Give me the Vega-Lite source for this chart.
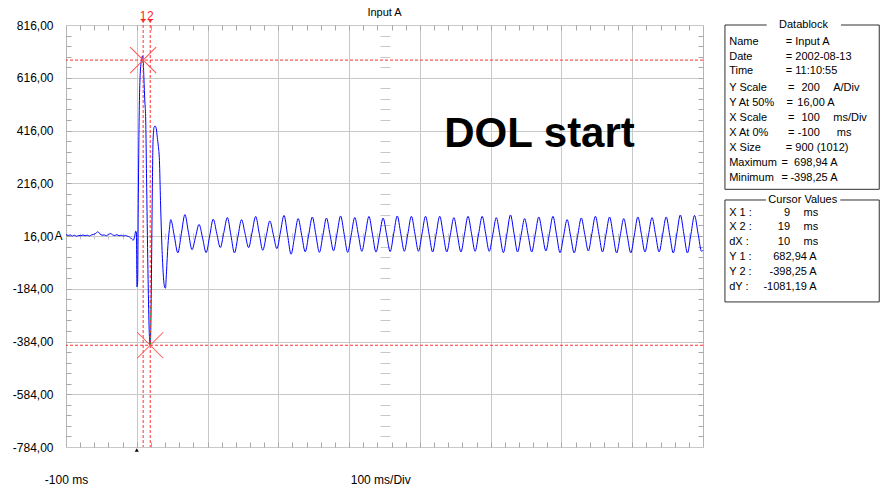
{
"$schema": "https://vega.github.io/schema/vega-lite/v6.json",
"width": 637, "height": 422,
"autosize": {"type": "none"},
"padding": {"left": 66, "top": 25, "right": 181, "bottom": 45},
"background": "#ffffff",
"config": {"view": {"stroke": "#b4b4b4", "strokeWidth": 1}, "axis": {"labelFont": "Liberation Sans", "labelColor": "#000000", "labelFontSize": 12, "tickColor": "#a8a8a8", "gridColor": "#c8c8c8", "labelOverlap": false, "labelFlush": false, "labelBound": false}},
"resolve": {"axis": {"x": "independent", "y": "independent"}},
"datasets": {
"wave": [
{"t":-100,"v":22},{"t":-97,"v":18},{"t":-94,"v":20},{"t":-91,"v":16},{"t":-88,"v":19},{"t":-85,"v":15},{"t":-82,"v":18},{"t":-79,"v":17},{"t":-76,"v":20},{"t":-73,"v":17},{"t":-70,"v":19},{"t":-67,"v":16},{"t":-64,"v":20},{"t":-61,"v":22},{"t":-58,"v":26},{"t":-55,"v":32},{"t":-52,"v":24},{"t":-49,"v":19},{"t":-46,"v":20},{"t":-43,"v":17},{"t":-40,"v":22},{"t":-37,"v":25},{"t":-34,"v":20},{"t":-31,"v":18},{"t":-28,"v":21},{"t":-25,"v":17},{"t":-22,"v":19},{"t":-19,"v":16},{"t":-16,"v":18},{"t":-13,"v":15},{"t":-10,"v":12},{"t":-7,"v":4},{"t":-5,"v":0},{"t":-3,"v":14},{"t":-1.5,"v":34},{"t":-0.5,"v":30},{"t":0.3,"v":-177},{"t":1.2,"v":-160},{"t":2,"v":100},{"t":3,"v":392},{"t":5,"v":638},{"t":7,"v":689},{"t":8,"v":698.94},{"t":9,"v":682.94},{"t":10,"v":619},{"t":11.5,"v":520},{"t":12.5,"v":470},{"t":14,"v":200},{"t":16,"v":-150},{"t":17.5,"v":-340},{"t":19,"v":-398.25},{"t":20,"v":-300},{"t":21,"v":-60},{"t":22,"v":200},{"t":23,"v":380},{"t":24.5,"v":429},{"t":26,"v":433},{"t":27.5,"v":424},{"t":29,"v":390},{"t":30.5,"v":355},{"t":32,"v":303},{"t":33.5,"v":150},{"t":35,"v":16},{"t":37,"v":-110},{"t":39,"v":-174},{"t":40.5,"v":-182},{"t":42,"v":-120},{"t":44,"v":-20},{"t":46,"v":40},{"t":48,"v":78},{"t":53,"v":16},{"t":58,"v":-48},{"t":63,"v":25},{"t":68,"v":97},{"t":73,"v":30},{"t":78,"v":-36},{"t":83,"v":12},{"t":88,"v":60},{"t":93,"v":8},{"t":98,"v":-47},{"t":103,"v":16},{"t":108,"v":80},
{"t":113,"v":26},{"t":118,"v":-28},{"t":123,"v":29},{"t":128,"v":86},{"t":133,"v":19},{"t":138,"v":-48},{"t":143,"v":15},{"t":148,"v":78},{"t":153,"v":25},{"t":158,"v":-28},{"t":163,"v":31},{"t":168,"v":90},{"t":173,"v":26},{"t":178,"v":-38},{"t":183,"v":17.5},{"t":188,"v":73},{"t":193,"v":20.5},{"t":198,"v":-32},{"t":203,"v":31},{"t":208,"v":94},{"t":213,"v":20.5},{"t":218,"v":-53},{"t":223,"v":14.5},{"t":228,"v":82},{"t":233,"v":19},{"t":238,"v":-44},{"t":243,"v":22},{"t":248,"v":88},{"t":253,"v":21},{"t":258,"v":-46},{"t":263,"v":19},{"t":268,"v":84},{"t":273,"v":22},{"t":278,"v":-40},{"t":283,"v":26},{"t":288,"v":92},{"t":293,"v":23},{"t":298,"v":-46},{"t":303,"v":20},{"t":308,"v":86},{"t":313,"v":22},{"t":318,"v":-42},{"t":323,"v":24},{"t":328,"v":90},{"t":333,"v":22.5},{"t":338,"v":-45},{"t":343,"v":19.5},{"t":348,"v":84},{"t":353,"v":20.5},{"t":358,"v":-43},{"t":363,"v":24.5},{"t":368,"v":92},{"t":373,"v":25},{"t":378,"v":-42},{"t":383,"v":24.4},{"t":388,"v":90.7},{"t":393,"v":24.4},{"t":398,"v":-42},{"t":403,"v":24.4},{"t":408,"v":90.7},{"t":413,"v":23.1},{"t":418,"v":-44.5},{"t":423,"v":23.1},{"t":428,"v":90.7},{"t":433,"v":23.1},{"t":438,"v":-44.5},{"t":443,"v":20.6},{"t":448,"v":85.6},{"t":453,"v":20.6},{"t":458,"v":-44.5},{"t":463,"v":23.1},{"t":468,"v":90.7},{"t":473,"v":24.4},{"t":478,"v":-42},{"t":483,"v":24.4},{"t":488,"v":90.7},{"t":493,"v":24.4},{"t":498,"v":-42},{"t":503,"v":21.8},{"t":508,"v":85.6},{"t":513,"v":19.3},{"t":518,"v":-47},{"t":523,"v":24.4},{"t":528,"v":95.7},{"t":533,"v":25.6},{"t":538,"v":-44.5},{"t":543,"v":18.7},{"t":548,"v":81.9},{"t":553,"v":18.7},{"t":558,"v":-44.5},{"t":563,"v":21.9},{"t":568,"v":88.2},{"t":573,"v":23.8},{"t":578,"v":-40.7},{"t":583,"v":25},{"t":588,"v":90.7},{"t":593,"v":21.9},{"t":598,"v":-47},{"t":603,"v":15.5},{"t":608,"v":78},{"t":613,"v":14.9},{"t":618,"v":-48.3},{"t":623,"v":18.1},{"t":628,"v":84.4},{"t":633,"v":21.9},{"t":638,"v":-40.7},{"t":643,"v":25},{"t":648,"v":90.7},{"t":653,"v":23.1},{"t":658,"v":-44.5},{"t":663,"v":21.9},{"t":668,"v":88.2},{"t":673,"v":20},{"t":678,"v":-48.3},{"t":683,"v":16.8},{"t":688,"v":81.9},{"t":693,"v":16.8},{"t":698,"v":-48.3},{"t":703,"v":20},{"t":708,"v":88.2},{"t":713,"v":21.9},{"t":718,"v":-44.5},{"t":723,"v":20.6},{"t":728,"v":85.6},{"t":733,"v":20.6},{"t":738,"v":-44.5},{"t":743,"v":21.9},{"t":748,"v":88.2},{"t":753,"v":20},{"t":758,"v":-48.3},{"t":763,"v":23.7},{"t":768,"v":95.7},{"t":773,"v":23.7},{"t":778,"v":-48.3},{"t":783,"v":22.9},{"t":788,"v":94},{"t":793,"v":26},{"t":798,"v":-42},{"t":800,"v":-38}
],
"cursors": [{"id":"1","t":9,"v":682.94},{"id":"2","t":19,"v":-398.25}],
"hl": [{"t":9,"v":682.94,"v2":665},{"t":19,"v":-398.25,"v2":-215}],
"info": [
{"s":"Datablock","t":942,"v":816,"a":"c"},
{"s":"Name","t":837,"v":753,"a":"l"},{"s":"= Input A","t":917,"v":753,"a":"l"},
{"s":"Date","t":837,"v":696,"a":"l"},{"s":"= 2002-08-13","t":917,"v":696,"a":"l"},
{"s":"Time","t":837,"v":643,"a":"l"},{"s":"= 11:10:55","t":917,"v":643,"a":"l"},
{"s":"Y Scale","t":837,"v":576,"a":"l"},{"s":"=","t":920,"v":576,"a":"l"},{"s":"200","t":965,"v":576,"a":"r"},{"s":"A/Div","t":984,"v":576,"a":"l"},
{"s":"Y At 50%","t":837,"v":520,"a":"l"},{"s":"=","t":918,"v":520,"a":"l"},{"s":"16,00 A","t":986,"v":520,"a":"r"},
{"s":"X Scale","t":837,"v":463,"a":"l"},{"s":"=","t":920,"v":463,"a":"l"},{"s":"100","t":965,"v":463,"a":"r"},{"s":"ms/Div","t":984,"v":463,"a":"l"},
{"s":"X At 0%","t":837,"v":406,"a":"l"},{"s":"=","t":920,"v":406,"a":"l"},{"s":"-100","t":965,"v":406,"a":"r"},{"s":"ms","t":989,"v":406,"a":"l"},
{"s":"X Size","t":837,"v":350,"a":"l"},{"s":"= 900 (1012)","t":917,"v":350,"a":"l"},
{"s":"Maximum","t":837,"v":293,"a":"l"},{"s":"=","t":911,"v":293,"a":"l"},{"s":"698,94 A","t":990,"v":293,"a":"r"},
{"s":"Minimum","t":837,"v":237,"a":"l"},{"s":"=","t":911,"v":237,"a":"l"},{"s":"-398,25 A","t":990,"v":237,"a":"r"},
{"s":"Cursor Values","t":941,"v":152.5,"a":"c"},
{"s":"X 1 :","t":837,"v":102,"a":"l"},{"s":"9","t":923,"v":102,"a":"r"},{"s":"ms","t":942,"v":102,"a":"l"},
{"s":"X 2 :","t":837,"v":49,"a":"l"},{"s":"19","t":923,"v":49,"a":"r"},{"s":"ms","t":942,"v":49,"a":"l"},
{"s":"dX :","t":837,"v":-8,"a":"l"},{"s":"10","t":923,"v":-8,"a":"r"},{"s":"ms","t":942,"v":-8,"a":"l"},
{"s":"Y 1 :","t":837,"v":-62,"a":"l"},{"s":"682,94 A","t":960.6,"v":-62,"a":"r"},
{"s":"Y 2 :","t":837,"v":-119,"a":"l"},{"s":"-398,25 A","t":960.6,"v":-119,"a":"r"},
{"s":"dY :","t":837,"v":-176,"a":"l"},{"s":"-1081,19 A","t":960.6,"v":-176,"a":"r"}
],
"boxes": [
{"t":831,"t2":890,"v":816,"v2":816},{"t":995,"t2":1049,"v":816,"v2":816},{"t":831,"t2":831,"v":816,"v2":193},{"t":1049,"t2":1049,"v":816,"v2":193},{"t":831,"t2":1049,"v":193,"v2":193},
{"t":831,"t2":889,"v":152.5,"v2":152.5},{"t":994,"t2":1049,"v":152.5,"v2":152.5},{"t":831,"t2":831,"v":152.5,"v2":-234},{"t":1049,"t2":1049,"v":152.5,"v2":-234},{"t":831,"t2":1049,"v":-234,"v2":-234}
]
},
"layer": [
{
"data": {"name": "wave"},
"mark": {"type": "line", "color": "#0000ff", "strokeWidth": 1, "interpolate": "monotone"},
"encoding": {
"x": {"field": "t", "type": "quantitative", "scale": {"domain": [-100, 800], "nice": false, "zero": false},
"axis": {"orient": "bottom", "values": [-100, 344], "labelExpr": "datum.value == -100 ? '-100 ms' : '100 ms/Div'", "ticks": false, "domain": false, "grid": false, "labelPadding": 27, "title": null}},
"y": {"field": "v", "type": "quantitative", "scale": {"domain": [-784, 816], "nice": false, "zero": false},
"axis": {"orient": "left", "values": [-784, -584, -384, -184, 16, 216, 416, 616, 816], "labelExpr": "datum.value + ',00'", "ticks": false, "domain": false, "grid": true, "labelPadding": 13, "title": null}}
}
},
{
"data": {"name": "hl"},
"mark": {"type": "rule", "color": "#00c000", "strokeDash": [3, 3], "strokeWidth": 1},
"encoding": {
"x": {"field": "t", "type": "quantitative", "scale": {"domain": [-100, 800], "nice": false, "zero": false},
"axis": {"orient": "bottom", "offset": -214, "values": [-80,-60,-40,-20,20,40,60,80,120,140,160,180,220,240,260,280,320,340,360,380,420,440,460,480,520,540,560,580,620,640,660,680,720,740,760,780], "tickSize": 6, "tickColor": "#c8c8c8", "labels": false, "domain": false, "grid": false, "title": null}},
"y": {"field": "v", "type": "quantitative", "scale": {"domain": [-784, 816], "nice": false, "zero": false},
"axis": {"orient": "left", "offset": -324, "values": [-744,-704,-664,-624,-544,-504,-464,-424,-344,-304,-264,-224,-144,-104,-64,-24,56,96,136,176,256,296,336,376,456,496,536,576,656,696,736,776], "tickSize": 10, "tickColor": "#c8c8c8", "labels": false, "domain": false, "grid": false, "title": null}},
"y2": {"field": "v2"}
}
},
{
"data": {"name": "cursors"},
"mark": {"type": "rule", "color": "#ff3030", "strokeDash": [3, 2], "strokeWidth": 1},
"encoding": {
"x": {"field": "t", "type": "quantitative", "scale": {"domain": [-100, 800], "nice": false, "zero": false},
"axis": {"orient": "top", "values": [-80,-60,-40,-20,0,20,40,60,80,100,120,140,160,180,200,220,240,260,280,300,320,340,360,380,400,420,440,460,480,500,520,540,560,580,600,620,640,660,680,700,720,740,760,780], "tickSize": -5, "labels": false, "domain": false, "grid": true, "gridOpacity": {"condition": {"test": "datum.value % 100 === 0", "value": 1}, "value": 0}, "title": null}}
}
},
{
"data": {"name": "cursors"},
"mark": {"type": "rule", "color": "#ff3030", "strokeDash": [3, 2], "strokeWidth": 1},
"encoding": {
"y": {"field": "v", "type": "quantitative", "scale": {"domain": [-784, 816], "nice": false, "zero": false},
"axis": {"orient": "left", "values": [-744,-704,-664,-624,-584,-544,-504,-464,-424,-384,-344,-304,-264,-224,-184,-144,-104,-64,-24,16,56,96,136,176,216,256,296,336,376,416,456,496,536,576,616,656,696,736,776], "tickSize": -5, "labels": false, "domain": false, "grid": false, "title": null}}
}
},
{
"data": {"name": "cursors"},
"mark": {"type": "point", "shape": "stroke", "angle": 45, "size": 1352, "filled": false, "color": "#ff5050", "stroke": "#ff5050", "strokeWidth": 1, "opacity": 1, "clip": false},
"encoding": {
"x": {"field": "t", "type": "quantitative", "scale": {"domain": [-100, 800], "nice": false, "zero": false},
"axis": {"orient": "bottom", "values": [-80,-60,-40,-20,0,20,40,60,80,100,120,140,160,180,200,220,240,260,280,300,320,340,360,380,400,420,440,460,480,500,520,540,560,580,600,620,640,660,680,700,720,740,760,780], "tickSize": -5, "labels": false, "domain": false, "grid": false, "title": null}},
"y": {"field": "v", "type": "quantitative", "scale": {"domain": [-784, 816], "nice": false, "zero": false},
"axis": {"orient": "right", "values": [-744,-704,-664,-624,-584,-544,-504,-464,-424,-384,-344,-304,-264,-224,-184,-144,-104,-64,-24,16,56,96,136,176,216,256,296,336,376,416,456,496,536,576,616,656,696,736,776], "tickSize": -5, "labels": false, "domain": false, "grid": false, "title": null}}
}
},
{
"data": {"name": "cursors"},
"mark": {"type": "point", "shape": "stroke", "angle": 135, "size": 1352, "filled": false, "color": "#ff5050", "stroke": "#ff5050", "strokeWidth": 1, "opacity": 1, "clip": false},
"encoding": {
"x": {"field": "t", "type": "quantitative", "scale": {"domain": [-100, 800], "nice": false, "zero": false}, "axis": null},
"y": {"field": "v", "type": "quantitative", "scale": {"domain": [-784, 816], "nice": false, "zero": false}, "axis": null}
}
},
{
"data": {"name": "cursors"},
"mark": {"type": "point", "shape": "triangle-down", "size": 16, "filled": true, "color": "#ff3030", "opacity": 1, "clip": false},
"encoding": {
"x": {"field": "t", "type": "quantitative", "scale": {"domain": [-100, 800], "nice": false, "zero": false}, "axis": null},
"y": {"datum": 829, "type": "quantitative", "scale": {"domain": [-784, 816], "nice": false, "zero": false}, "axis": null}
}
},
{
"data": {"name": "cursors"},
"mark": {"type": "text", "font": "Liberation Sans", "fontSize": 12, "color": "#ff2020", "align": "center", "baseline": "middle", "clip": false},
"encoding": {
"x": {"field": "t", "type": "quantitative", "scale": {"domain": [-100, 800], "nice": false, "zero": false}, "axis": null},
"y": {"datum": 851, "type": "quantitative", "scale": {"domain": [-784, 816], "nice": false, "zero": false}, "axis": null},
"text": {"field": "id"}
}
},
{
"data": {"values": [{"t": 0, "v": -795}]},
"mark": {"type": "point", "shape": "triangle-up", "size": 16, "filled": true, "color": "#000000", "opacity": 1, "clip": false},
"encoding": {
"x": {"field": "t", "type": "quantitative", "scale": {"domain": [-100, 800], "nice": false, "zero": false}, "axis": null},
"y": {"field": "v", "type": "quantitative", "scale": {"domain": [-784, 816], "nice": false, "zero": false}, "axis": null}
}
},
{
"data": {"values": [{"s": "A", "t": -100, "v": 16}]},
"mark": {"type": "text", "font": "Liberation Sans", "fontSize": 12, "color": "#000000", "align": "left", "baseline": "middle", "dx": -11.5, "clip": false},
"encoding": {
"x": {"field": "t", "type": "quantitative", "scale": {"domain": [-100, 800], "nice": false, "zero": false}, "axis": null},
"y": {"field": "v", "type": "quantitative", "scale": {"domain": [-784, 816], "nice": false, "zero": false}, "axis": null},
"text": {"field": "s"}
}
},
{
"data": {"values": [{"s": "Input A", "t": 350, "v": 862}]},
"mark": {"type": "text", "font": "Liberation Sans", "fontSize": 11, "color": "#000000", "align": "center", "baseline": "middle", "clip": false},
"encoding": {
"x": {"field": "t", "type": "quantitative", "scale": {"domain": [-100, 800], "nice": false, "zero": false}, "axis": null},
"y": {"field": "v", "type": "quantitative", "scale": {"domain": [-784, 816], "nice": false, "zero": false}, "axis": null},
"text": {"field": "s"}
}
},
{
"data": {"values": [{"s": "DOL start", "t": 569, "v": 353}]},
"mark": {"type": "text", "font": "Liberation Sans", "fontSize": 42, "fontWeight": "bold", "color": "#000000", "align": "center", "baseline": "alphabetic", "clip": false},
"encoding": {
"x": {"field": "t", "type": "quantitative", "scale": {"domain": [-100, 800], "nice": false, "zero": false}, "axis": null},
"y": {"field": "v", "type": "quantitative", "scale": {"domain": [-784, 816], "nice": false, "zero": false}, "axis": null},
"text": {"field": "s"}
}
},
{
"data": {"name": "boxes"},
"mark": {"type": "rule", "color": "#303030", "strokeWidth": 1, "clip": false},
"encoding": {
"x": {"field": "t", "type": "quantitative", "scale": {"domain": [-100, 800], "nice": false, "zero": false}, "axis": null},
"x2": {"field": "t2"},
"y": {"field": "v", "type": "quantitative", "scale": {"domain": [-784, 816], "nice": false, "zero": false}, "axis": null},
"y2": {"field": "v2"}
}
},
{
"data": {"name": "info"},
"transform": [{"filter": "datum.a == 'l'"}],
"mark": {"type": "text", "font": "Liberation Sans", "fontSize": 11, "color": "#000000", "align": "left", "baseline": "middle", "clip": false},
"encoding": {
"x": {"field": "t", "type": "quantitative", "scale": {"domain": [-100, 800], "nice": false, "zero": false}, "axis": null},
"y": {"field": "v", "type": "quantitative", "scale": {"domain": [-784, 816], "nice": false, "zero": false}, "axis": null},
"text": {"field": "s"}
}
},
{
"data": {"name": "info"},
"transform": [{"filter": "datum.a == 'r'"}],
"mark": {"type": "text", "font": "Liberation Sans", "fontSize": 11, "color": "#000000", "align": "right", "baseline": "middle", "clip": false},
"encoding": {
"x": {"field": "t", "type": "quantitative", "scale": {"domain": [-100, 800], "nice": false, "zero": false}, "axis": null},
"y": {"field": "v", "type": "quantitative", "scale": {"domain": [-784, 816], "nice": false, "zero": false}, "axis": null},
"text": {"field": "s"}
}
},
{
"data": {"name": "info"},
"transform": [{"filter": "datum.a == 'c'"}],
"mark": {"type": "text", "font": "Liberation Sans", "fontSize": 11, "color": "#000000", "align": "center", "baseline": "middle", "clip": false},
"encoding": {
"x": {"field": "t", "type": "quantitative", "scale": {"domain": [-100, 800], "nice": false, "zero": false}, "axis": null},
"y": {"field": "v", "type": "quantitative", "scale": {"domain": [-784, 816], "nice": false, "zero": false}, "axis": null},
"text": {"field": "s"}
}
}
]
}
